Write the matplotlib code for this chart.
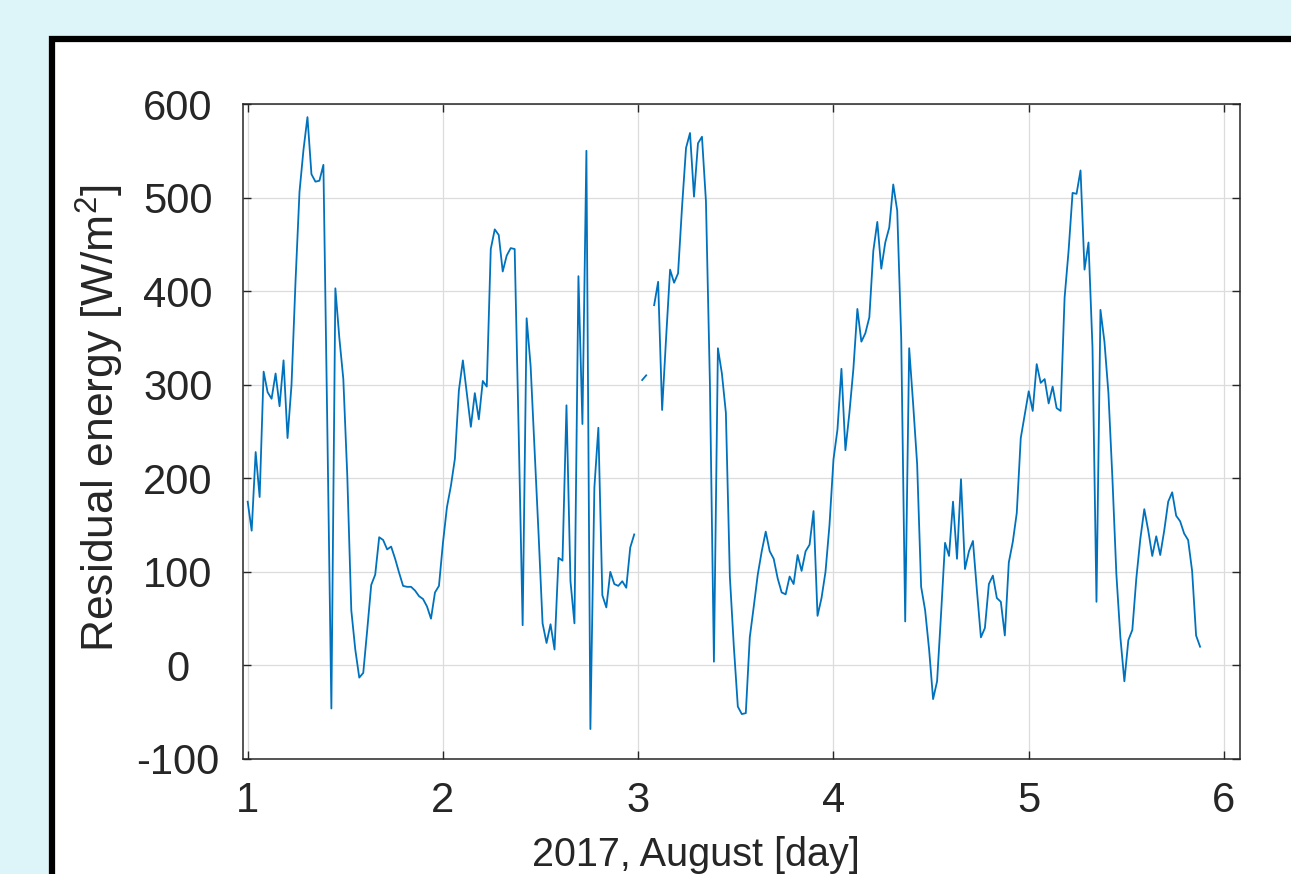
import numpy as np
import matplotlib
matplotlib.use("Agg")
import matplotlib.pyplot as plt
import matplotlib.patches as patches

plt.rcParams['font.family'] = ['Liberation Sans', 'DejaVu Sans']
plt.rcParams['mathtext.fontset'] = 'custom'
plt.rcParams['mathtext.rm'] = 'Liberation Sans'
plt.rcParams['axes.unicode_minus'] = False

# residual energy, one sample every 1/49 day starting on day 1
day_start = 1.0
day_step = 1.0 / 49
residual = [
    # day 1
    175, 144, 228, 180, 314, 292, 285, 312, 277, 326, 243, 300, 410, 506, 551, 586,
    525, 517, 518, 535, 250, -46, 403, 350, 306, 202, 59, 17, -13, -8, 38, 86,
    97, 137, 134, 124, 127, 114, 99, 85, 84, 84, 80, 74, 71, 63, 50, 78, 85,
    # day 2
    131, 169, 192, 221, 294, 326, 290, 255, 291, 263, 304, 298, 445, 466, 460, 421,
    438, 446, 445, 250, 43, 371, 320, 230, 140, 45, 24, 44, 17, 115, 112, 278,
    90, 45, 416, 258, 550, -68, 190, 254, 75, 62, 100, 87, 85, 90, 83, 126, 140,
    # day 3
    np.nan, 305, 310, np.nan, 385, 410, 273, 350, 423, 409, 419, 490, 553, 569, 501, 558,
    565, 496, 300, 4, 339, 312, 270, 95, 20, -44, -52, -51, 30, 63, 97, 122,
    143, 122, 114, 93, 78, 76, 95, 87, 118, 101, 122, 129, 165, 53, 72, 100, 150,
    # day 4
    220, 252, 317, 230, 270, 317, 381, 346, 355, 372, 443, 474, 424, 452, 468, 514,
    486, 350, 47, 339, 279, 215, 84, 59, 17, -36, -17, 55, 131, 117, 175, 114,
    199, 103, 122, 133, 80, 30, 40, 87, 96, 72, 68, 32, 110, 132, 163, 243, 268,
    # day 5
    293, 272, 322, 302, 306, 280, 298, 275, 272, 393, 443, 505, 504, 529, 423, 452,
    340, 68, 380, 346, 291, 200, 97, 30, -17, 27, 38, 93, 135, 167, 144, 117,
    138, 118, 144, 175, 185, 160, 154, 141, 134, 101, 32, 20,
]
x_ticks = [1, 2, 3, 4, 5, 6]
y_ticks = [-100, 0, 100, 200, 300, 400, 500, 600]

residual = np.array(residual, dtype=float)
days = day_start + np.arange(len(residual)) * day_step

fig = plt.figure(figsize=(12.91, 8.74), dpi=100)
fig.patch.set_facecolor('#ddf4f9')

# white panel with thick black frame (cut by the image edges)
frame = patches.Rectangle((52 / 1291, -0.1), 1.2, (874 - 39) / 874 + 0.1,
                          transform=fig.transFigure, facecolor='white',
                          edgecolor='black', linewidth=4.5, zorder=-10)
fig.patches.append(frame)

ax = fig.add_axes([243 / 1291, (874 - 759) / 874, (1240 - 243) / 1291, (759 - 104) / 874])
ax.set_zorder(5)
ax.plot(days, residual, color='#0072bd', linewidth=1.3)

ax.set_xlim(0.976, 6.082)
ax.set_ylim(-100, 600)
ax.set_xticks(x_ticks)
ax.set_yticks(y_ticks)
ax.grid(True, color='#dcdcdc', linewidth=0.9)
ax.set_axisbelow(True)
ax.tick_params(direction='in', length=6, width=1, colors='#262626',
               top=True, right=True, labelsize=30)
ax.tick_params(axis='x', pad=16)
ax.tick_params(axis='y', pad=47)
for lbl in ax.get_yticklabels():
    lbl.set_horizontalalignment('center')
for s in ax.spines.values():
    s.set_color('#262626')
    s.set_linewidth(1.1)

ax.set_xlabel('2017, August [day]', fontsize=28.5, color='#262626')
ax.xaxis.set_label_coords(0.454, -0.117)
ax.set_ylabel(r'Residual energy [W/m$^{2}$]', fontsize=32, color='#262626')
ax.yaxis.set_label_coords(-0.117, 0.52)

fig.savefig('out.png', dpi=100)
